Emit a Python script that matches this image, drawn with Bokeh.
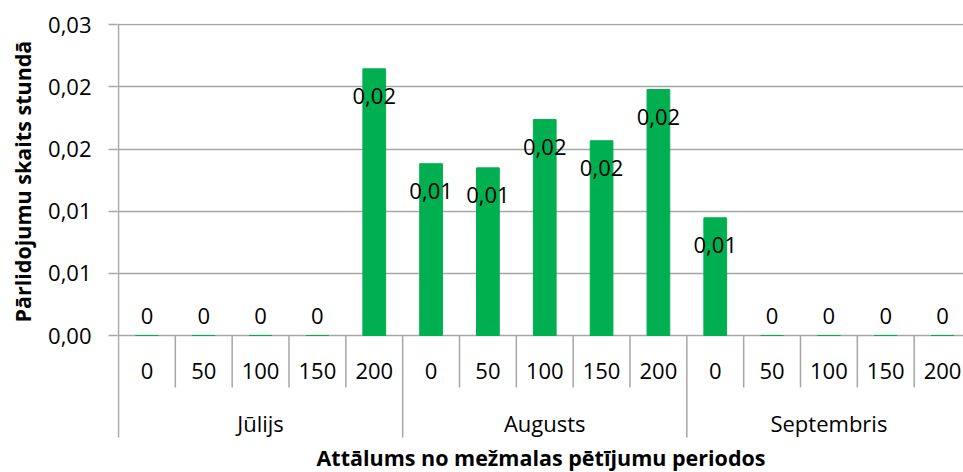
import math
from bokeh.plotting import figure
from bokeh.models import Range1d, FixedTicker, Title
from bokeh.core.properties import value
from bokeh.embed import file_html
from bokeh.resources import INLINE

# ---- data ----
months = ["Jūlijs", "Augusts", "Septembris"]
distances = ["0", "50", "100", "150", "200"]
flights_per_hour = [0, 0, 0, 0, 0.02146,
                    0.01382, 0.01349, 0.01738, 0.01567, 0.01979,
                    0.00947, 0, 0, 0, 0]
ytick_values = [0, 0.005, 0.01, 0.015, 0.02, 0.025]
ytick_labels = ["0,00", "0,01", "0,01", "0,02", "0,02", "0,03"]
y_title = "Pārlidojumu skaits stundā"
x_title = "Attālums no mežmalas pētījumu periodos"

# ---- style / layout ----
FONT = "Open Sans"
GREEN = "#00B050"
GRID = "#A6A6A6"
PX_PER_UNIT_Y = 12428.0      # pixels per data unit on y
PX_PER_CAT = 56.9            # pixels per category on x
W, H = 963, 472
LEFT = 116                   # frame left (canvas px)
TOP = 23                     # frame top (canvas px)
ZERO_PX = 335                # canvas px of y=0
frame_w = W - LEFT

y_end = (ZERO_PX - TOP) / PX_PER_UNIT_Y
y_start = -(H - ZERO_PX) / PX_PER_UNIT_Y
x_start = -1.0 / PX_PER_CAT
x_end = x_start + frame_w / PX_PER_CAT

n_sub = len(distances)
n = len(months) * n_sub
xs = [i + 0.5 for i in range(n)]
sub_labels = [distances[i % n_sub] for i in range(n)]

p = figure(width=W, height=H, output_backend="svg", toolbar_location=None,
           x_range=Range1d(x_start, x_end), y_range=Range1d(y_start, y_end),
           min_border_left=LEFT, min_border_right=0, min_border_top=TOP,
           min_border_bottom=0)
p.outline_line_color = None
p.background_fill_color = "white"
p.border_fill_color = "white"
p.xaxis.visible = False
p.xgrid.visible = False

yax = p.yaxis[0]
yax.ticker = FixedTicker(ticks=ytick_values)
yax.major_label_overrides = {v: l for v, l in zip(ytick_values, ytick_labels)}
yax.axis_line_color = None
yax.major_tick_in = 0
yax.major_tick_out = 9
yax.major_tick_line_color = GRID
yax.major_tick_line_width = 1.5
yax.minor_tick_line_color = None
yax.major_label_text_font = FONT
yax.major_label_text_font_size = "22px"
yax.major_label_text_color = "black"
yax.major_label_standoff = 17

p.ygrid.ticker = FixedTicker(ticks=ytick_values)
p.ygrid.grid_line_color = GRID
p.ygrid.grid_line_width = 1.5

# y-axis title (placed in the left panel, aligned along the value area)
p.add_layout(Title(text=y_title, align="left", offset=150, vertical_align="top",
                   standoff=14, text_font=FONT, text_font_size="21.5px",
                   text_font_style="bold", text_color="black"), "left")

# bars
p.vbar(x=xs, top=flights_per_hour, bottom=0, width=0.4, color=GREEN)

# vertical axis line (extends through category area)
sub_sep_bottom = -52 / PX_PER_UNIT_Y
grp_sep_bottom = -102 / PX_PER_UNIT_Y
p.segment(x0=[0], y0=[ytick_values[-1]], x1=[0], y1=[grp_sep_bottom],
          line_color=GRID, line_width=1.5)

# separators between categories
sx, sy1 = [], []
for i in range(1, n):
    sx.append(i)
    sy1.append(grp_sep_bottom if i % n_sub == 0 else sub_sep_bottom)
p.segment(x0=sx, y0=[0] * len(sx), x1=sx, y1=sy1, line_color=GRID, line_width=1.5)

# data labels
def fmt(v):
    return "0" if v == 0 else f"{v:.2f}".replace(".", ",")

nz = [(x, v) for x, v in zip(xs, flights_per_hour) if v != 0]
z = [(x, v) for x, v in zip(xs, flights_per_hour) if v == 0]
p.text(x=[a for a, _ in nz], y=[b for _, b in nz], text=[fmt(b) for _, b in nz],
       text_align="center", text_baseline="middle", y_offset=27.5,
       text_font=value(FONT), text_font_size="22px", text_color="black")
p.text(x=[a for a, _ in z], y=[b for _, b in z], text=[fmt(b) for _, b in z],
       text_align="center", text_baseline="middle", y_offset=-20,
       text_font=value(FONT), text_font_size="22px", text_color="black")

# category labels
p.text(x=xs, y=[0] * n, text=sub_labels, text_align="center", text_baseline="middle",
       y_offset=35, text_font=value(FONT), text_font_size="22px", text_color="black")
gx = [k * n_sub + n_sub / 2 for k in range(len(months))]
p.text(x=gx, y=[0] * len(months), text=months, text_align="center",
       text_baseline="middle", y_offset=87, text_font=value(FONT),
       text_font_size="22px", text_color="black")

# x-axis title
p.text(x=[(540 - LEFT) / PX_PER_CAT + x_start], y=[0], text=[x_title],
       text_align="center", text_baseline="middle", y_offset=122,
       text_font=value(FONT), text_font_size="21.5px", text_font_style="bold",
       text_color="black")

open("out.html", "w").write(file_html(p, INLINE))
